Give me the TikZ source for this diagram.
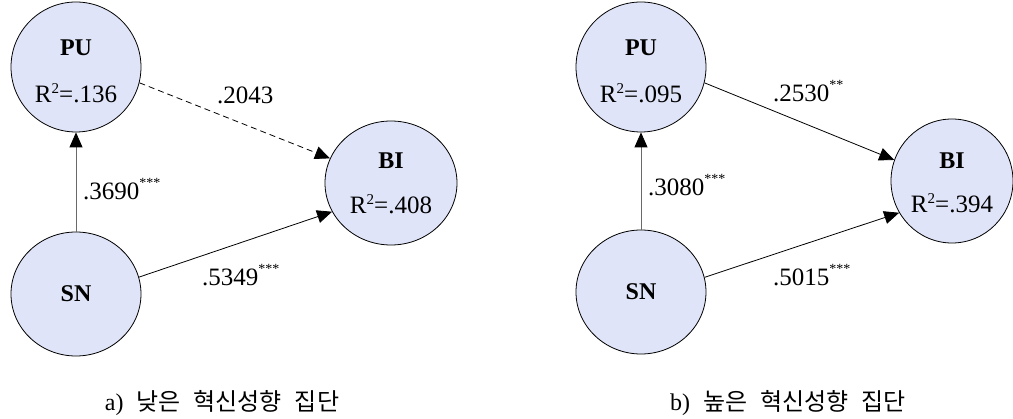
\documentclass[tikz,border=0pt]{standalone}
\usepackage{fontspec}
\setmainfont{Liberation Serif}
\newfontfamily\krfont{Noto Sans CJK KR}
\usetikzlibrary{arrows.meta,shapes.geometric}
\definecolor{circfill}{RGB}{224,228,248}
\definecolor{vline}{RGB}{105,105,105}
\newcommand\mystars[1]{\raisebox{12pt}{\fontsize{14}{14}\selectfont #1}}
\newcommand\Rsq[1]{R\raisebox{9pt}{\fontsize{15}{15}\selectfont 2}=#1}
\newcommand\capsp{\hspace{13pt}}
\tikzset{
  latent/.style={ellipse, draw=black, line width=0.8pt, fill=circfill, inner sep=0pt},
  coef/.style={anchor=base west, inner sep=0pt, font=\fontsize{25}{30}\selectfont},
  rsq/.style={anchor=base, inner sep=0pt, font=\fontsize{25}{30}\selectfont},
  lvname/.style={anchor=center, inner sep=0pt, font=\fontsize{24}{28}\selectfont\bfseries},
  pathline/.style={line width=0.8pt, -{Triangle[length=15pt,width=13pt,color=black]}},
  vpath/.style={pathline, draw=vline},
  captext/.style={anchor=center, inner sep=0pt, font=\fontsize{24}{28}\selectfont}
}
\begin{document}
\begin{tikzpicture}[x=1pt,y=-1pt]
\useasboundingbox (0,0) rectangle (1013,419);
% left model
\node[latent, minimum width=130pt, minimum height=130pt] (lPU) at (76,67) {};
\node[latent, minimum width=130pt, minimum height=124pt] (lSN) at (76,294) {};
\node[latent, minimum width=132pt, minimum height=124pt] (lBI) at (391,183) {};
\node[lvname] (lPUn) at (76,48) {PU};
\node[rsq] (lPUr) at (76,103) {\Rsq{.136}};
\node[lvname] (lSNn) at (76,294) {SN};
\node[lvname] (lBIn) at (391,161) {BI};
\node[rsq] (lBIr) at (391,214) {\Rsq{.408}};
\draw[vpath] (lSN.north) -- (lPU.south);
\draw[pathline, dash pattern=on 6pt off 4pt] (lPU.-14) -- (lBI.158);
\draw[pathline] (lSN.15) -- (lBI.206);
\node[coef] (l1) at (217,103.5) {.2043};
\node[coef] (l2) at (83,200) {.3690\mystars{***}};
\node[coef] (l3) at (202,285.5) {.5349\mystars{***}};
% right model
\node[latent, minimum width=130pt, minimum height=130pt] (rPU) at (641,67) {};
\node[latent, minimum width=130pt, minimum height=124pt] (rSN) at (641,292) {};
\node[latent, minimum width=122pt, minimum height=124pt] (rBI) at (952,181) {};
\node[lvname] (rPUn) at (641,48) {PU};
\node[rsq] (rPUr) at (641,103) {\Rsq{.095}};
\node[lvname] (rSNn) at (641,292) {SN};
\node[lvname] (rBIn) at (952,161) {BI};
\node[rsq] (rBIr) at (952,213) {\Rsq{.394}};
\draw[vpath] (rSN.north) -- (rPU.south);
\draw[pathline] (rPU.-14) -- (rBI.160);
\draw[pathline] (rSN.13) -- (rBI.211);
\node[coef] (r1) at (773,101.5) {.2530\mystars{**}};
\node[coef] (r2) at (648,195.5) {.3080\mystars{***}};
\node[coef] (r3) at (773,285.5) {.5015\mystars{***}};
% captions
\node[captext] (capa) at (222,403) {a)\capsp{\krfont 낮은}\capsp{\krfont 혁신성향}\capsp{\krfont 집단}};
\node[captext] (capb) at (788,403) {b)\capsp{\krfont 높은}\capsp{\krfont 혁신성향}\capsp{\krfont 집단}};
\end{tikzpicture}
\end{document}
